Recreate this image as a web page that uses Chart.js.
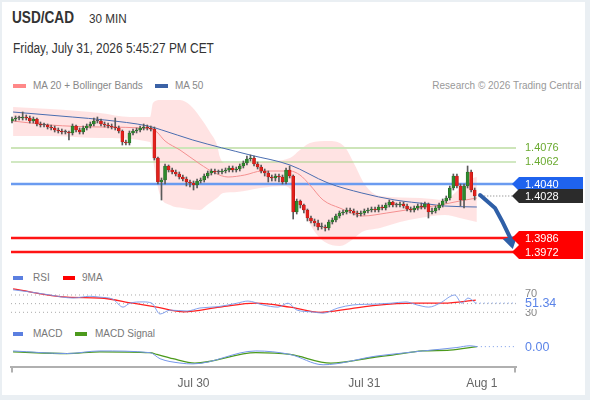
<!DOCTYPE html>
<html><head><meta charset="utf-8">
<script src="https://cdn.jsdelivr.net/npm/chart.js@4.4.1/dist/chart.umd.min.js"></script>
<style>
html,body{margin:0;padding:0;}
body{width:590px;height:400px;background:#eaeff3;position:relative;overflow:hidden;font-family:"Liberation Sans",Arial,sans-serif;}
#frame{position:absolute;left:2px;top:2px;width:583px;height:393px;background:#fff;}
.t{position:absolute;white-space:nowrap;line-height:1;transform-origin:0 50%;}
.sw{position:absolute;height:4px;}
canvas{position:absolute;left:0;}
</style></head><body>
<div id="frame"></div>
<div class="t" style="left:12px;top:10px;font-size:16px;font-weight:bold;color:#333;transform:scaleX(0.85)">USD/CAD</div>
<div class="t" style="left:89px;top:12px;font-size:13px;color:#333;transform:scaleX(0.9)">30 MIN</div>
<div class="t" style="left:13px;top:41px;font-size:14px;color:#333;transform:scaleX(0.85)">Friday, July 31, 2026 5:45:27 PM CET</div>
<div class="sw" style="left:13px;top:84px;width:13px;background:#f88;"></div>
<div class="t" style="left:33px;top:80px;font-size:11.5px;color:#888;transform:scaleX(0.87)">MA 20 + Bollinger Bands</div>
<div class="sw" style="left:155px;top:84px;width:13px;background:#3b62a6;"></div>
<div class="t" style="left:175px;top:80px;font-size:11.5px;color:#888;transform:scaleX(0.87)">MA 50</div>
<div class="t" style="right:9px;top:80px;font-size:11.5px;color:#999;transform:scaleX(0.87);transform-origin:100% 50%">Research © 2026 Trading Central</div>
<div class="sw" style="left:13px;top:276px;width:10px;background:#5b7fe0;"></div>
<div class="t" style="left:33px;top:272px;font-size:11.5px;color:#777;transform:scaleX(0.87)">RSI</div>
<div class="sw" style="left:63px;top:276px;width:12px;background:#f00;"></div>
<div class="t" style="left:82px;top:272px;font-size:11.5px;color:#777;transform:scaleX(0.87)">9MA</div>
<div class="sw" style="left:13px;top:332px;width:10px;background:#5b7fe0;"></div>
<div class="t" style="left:33px;top:328px;font-size:11.5px;color:#777;transform:scaleX(0.87)">MACD</div>
<div class="sw" style="left:75px;top:332px;width:12px;background:#4c9a1c;"></div>
<div class="t" style="left:95px;top:328px;font-size:11.5px;color:#777;transform:scaleX(0.87)">MACD Signal</div>
<canvas id="price" width="590" height="170" style="top:95px;width:590px;height:170px"></canvas>
<canvas id="rsi" width="590" height="35" style="top:285px;width:590px;height:35px"></canvas>
<canvas id="macd" width="590" height="60" style="top:338px;width:590px;height:60px"></canvas>
<script>
// ---------- data ----------
const opens = [1.4103,1.4105,1.4106,1.4106,1.4107,1.4106,1.4103,1.4105,1.4100,1.4099,
1.4099,1.4097,1.4096,1.4094,1.4093,1.4092,1.4092,1.4091,1.4098,1.4094,
1.4092,1.4096,1.4098,1.4100,1.4103,1.4103,1.4100,1.4099,1.4098,1.4097,
1.4096,1.4093,1.4082,1.4081,1.4091,1.4093,1.4094,1.4096,1.4097,1.4096,
1.4095,1.4066,1.4042,1.4044,1.4058,1.4054,1.4052,1.4050,1.4047,1.4045,
1.4042,1.4041,1.4039,1.4043,1.4044,1.4048,1.4051,1.4053,1.4052,1.4052,
1.4053,1.4054,1.4056,1.4054,1.4055,1.4058,1.4061,1.4065,1.4066,1.4060,
1.4057,1.4053,1.4051,1.4047,1.4046,1.4048,1.4047,1.4042,1.4054,1.4048,
1.4012,1.4023,1.4019,1.4014,1.4006,1.4003,1.4001,1.3997,1.3997,1.3996,
1.4002,1.4004,1.4008,1.4011,1.4012,1.4014,1.4013,1.4011,1.4010,1.4011,
1.4013,1.4014,1.4015,1.4014,1.4017,1.4016,1.4019,1.4022,1.4019,1.4019,
1.4020,1.4018,1.4015,1.4014,1.4016,1.4018,1.4017,1.4020,1.4012,1.4013,
1.4016,1.4019,1.4023,1.4026,1.4036,1.4048,1.4038,1.4024,1.4038,1.4052,
1.4034];
const closes = [1.4105,1.4106,1.4106,1.4107,1.4106,1.4103,1.4105,1.4100,1.4099,1.4099,
1.4097,1.4096,1.4094,1.4093,1.4092,1.4092,1.4091,1.4098,1.4094,1.4092,
1.4096,1.4098,1.4100,1.4103,1.4103,1.4100,1.4099,1.4098,1.4097,1.4096,
1.4093,1.4082,1.4081,1.4091,1.4093,1.4094,1.4096,1.4097,1.4096,1.4095,
1.4066,1.4042,1.4044,1.4058,1.4054,1.4052,1.4050,1.4047,1.4045,1.4042,
1.4041,1.4039,1.4043,1.4044,1.4048,1.4051,1.4053,1.4052,1.4052,1.4053,
1.4054,1.4056,1.4054,1.4055,1.4058,1.4061,1.4065,1.4066,1.4060,1.4057,
1.4053,1.4051,1.4047,1.4046,1.4048,1.4047,1.4042,1.4054,1.4048,1.4012,
1.4023,1.4019,1.4014,1.4006,1.4003,1.4001,1.3997,1.3997,1.3996,1.4002,
1.4004,1.4008,1.4011,1.4012,1.4014,1.4013,1.4011,1.4010,1.4011,1.4013,
1.4014,1.4015,1.4014,1.4017,1.4016,1.4019,1.4022,1.4019,1.4019,1.4020,
1.4018,1.4015,1.4014,1.4016,1.4018,1.4017,1.4020,1.4012,1.4013,1.4016,
1.4019,1.4023,1.4026,1.4036,1.4048,1.4038,1.4024,1.4038,1.4052,1.4034,
1.4028];
const highs = [1.4107,1.4108,1.4108,1.4112,1.4109,1.4108,1.4107,1.4106,1.4102,1.4101,
1.4100,1.4099,1.4098,1.4096,1.4095,1.4094,1.4093,1.4100,1.4099,1.4096,
1.4098,1.4100,1.4102,1.4106,1.4107,1.4105,1.4102,1.4101,1.4100,1.4106,
1.4098,1.4094,1.4084,1.4093,1.4095,1.4096,1.4098,1.4100,1.4099,1.4098,
1.4097,1.4067,1.4046,1.4060,1.4059,1.4056,1.4054,1.4052,1.4049,1.4047,
1.4044,1.4043,1.4045,1.4046,1.4050,1.4053,1.4055,1.4055,1.4054,1.4055,
1.4056,1.4058,1.4058,1.4057,1.4060,1.4063,1.4068,1.4069,1.4068,1.4062,
1.4059,1.4055,1.4053,1.4049,1.4050,1.4050,1.4049,1.4056,1.4058,1.4049,
1.4025,1.4024,1.4020,1.4015,1.4008,1.4005,1.4004,1.4001,1.3999,1.4004,
1.4006,1.4010,1.4013,1.4014,1.4016,1.4016,1.4015,1.4013,1.4013,1.4015,
1.4016,1.4017,1.4017,1.4019,1.4019,1.4021,1.4024,1.4023,1.4021,1.4022,
1.4022,1.4020,1.4017,1.4018,1.4020,1.4021,1.4022,1.4021,1.4016,1.4018,
1.4021,1.4025,1.4028,1.4038,1.4050,1.4050,1.4040,1.4040,1.4058,1.4054,
1.4036];
const lows = [1.4101,1.4103,1.4104,1.4104,1.4104,1.4101,1.4101,1.4098,1.4097,1.4097,
1.4095,1.4094,1.4092,1.4091,1.4090,1.4090,1.4084,1.4089,1.4092,1.4090,
1.4090,1.4094,1.4096,1.4098,1.4101,1.4098,1.4097,1.4096,1.4095,1.4094,
1.4091,1.4079,1.4079,1.4079,1.4089,1.4091,1.4092,1.4094,1.4094,1.4093,
1.4064,1.4040,1.4024,1.4040,1.4052,1.4050,1.4048,1.4045,1.4043,1.4038,
1.4037,1.4034,1.4036,1.4041,1.4042,1.4046,1.4049,1.4050,1.4050,1.4050,
1.4051,1.4052,1.4052,1.4052,1.4053,1.4056,1.4059,1.4063,1.4058,1.4055,
1.4051,1.4048,1.4042,1.4043,1.4043,1.4042,1.4040,1.4040,1.4046,1.4005,
1.4010,1.4016,1.4011,1.4003,1.4001,1.3998,1.3994,1.3995,1.3993,1.3994,
1.4000,1.4002,1.4006,1.4009,1.4010,1.4011,1.4009,1.4007,1.4008,1.4009,
1.4011,1.4012,1.4012,1.4012,1.4014,1.4014,1.4017,1.4017,1.4017,1.4017,
1.4016,1.4013,1.4012,1.4012,1.4014,1.4015,1.4015,1.4006,1.4010,1.4011,
1.4014,1.4017,1.4021,1.4024,1.4034,1.4036,1.4018,1.4016,1.4036,1.4032,
1.4024];

const bbUpX = [0.3,10.7,24.7,33.1,38.8,39.6,41.6,47.2,50.0,52.8,55.6,57.6,58.4,59.8,69.7,78.1,80.9,83.7,89.3,93.5,96.3,99.2,103.4,114.6,121.6,125.3,128.1,130.6];
const bbUpper = [1.4117,1.4115,1.4111,1.4107,1.4107,1.4121,1.4124,1.4124,1.4119,1.4107,1.4092,1.4079,1.4067,1.4061,1.4062,1.4066,1.4074,1.4081,1.4083,1.4077,1.4059,1.4039,1.4028,1.4026,1.4024,1.4034,1.4044,1.4047];
const bbLowX = [0.3,10.7,24.7,38.8,39.6,41.6,44.4,48.0,52.8,54.8,57.6,59.3,63.2,69.7,76.7,79.5,82.3,85.1,87.9,92.1,95.5,98.3,103.4,109.0,114.6,121.6,125.8,130.6];
const bbLower = [1.4088,1.4088,1.4086,1.4082,1.4064,1.4029,1.4019,1.4016,1.4014,1.4019,1.4026,1.4031,1.4032,1.4036,1.4038,1.4029,1.4009,1.3992,1.3982,1.3978,1.3984,1.3992,1.3996,1.4002,1.4006,1.4009,1.4006,1.4002];
const ma20X = [0.3,10.7,24.7,39.3,40.7,43.0,47.2,52.8,57.0,60.7,65.4,70.2,78.1,80.9,83.7,87.4,92.1,98.6,105.3,112.6,120.2,125.8,130.6];
const ma20 = [1.4103,1.4099,1.4097,1.4095,1.4092,1.4083,1.4074,1.4060,1.4051,1.4047,1.4049,1.4053,1.4053,1.4049,1.4039,1.4024,1.4016,1.4008,1.4011,1.4015,1.4019,1.4023,1.4026];
const ma50X = [0.3,16.9,26.1,38.2,42.1,50.8,66.9,78.1,88.8,98.3,107.6,116.9,121.6,130.6];
const ma50 = [1.4112,1.4107,1.4104,1.4098,1.4094,1.4084,1.4069,1.4059,1.4041,1.4031,1.4024,1.4020,1.4018,1.4017];

const levels = [1.4076, 1.4062, 1.4040, 1.3986, 1.3972];
const lastPrice = 1.4028;
const arrowPts = [[131.5,1.4029],[135.7,1.4016],[137.8,1.4003],[139.9,1.3987],[140.7,1.3975]];

const rsiX = [0.3,5.1,10.7,17.1,21.9,24.7,28.4,31.2,33.1,36.8,39.3,41.6,44.4,49.2,52.8,57.9,63.2,66.3,70.5,74.7,77.5,80.1,84.3,87.4,91.6,95.8,102.2,106.5,110.7,113.8,117.1,120.2,124.4,126.4,128.1,130.3];
const rsi = [82,77,70,63,67,65,60,42,51,54,51,26,35,33,40,43,51,56,47,42,51,35,31,28,40,47,49,51,54,47,42,51,70,51,63,51.34];
const rsiMaX = [0.3,15.4,24.7,34.0,40.7,48.3,58.4,68.5,78.1,86.5,94.9,102.2,112.9,121.3,130.3];
const rsiMa = [84,65,63,51,42,31,42,51,42,30,38,46,51,51,58];
const rsiGuides = [70, 50, 30];

const macdX = [0.3,15.4,24.7,38.8,41.6,47.2,50.8,68.5,78.1,87.4,102.2,106.2,115.4,125.0,128.7,130.6];
const macd = [-0.0005,-0.0008,-0.0005,-0.0007,-0.0014,-0.0019,-0.0020,-0.0005,-0.0009,-0.0021,-0.0011,-0.0009,-0.0005,-0.0001,0.0001,0.0000];
const sigX = [0.3,15.4,24.7,38.8,40.7,45.2,51.4,68.5,78.1,89.6,102.2,106.2,115.4,123.0,130.6];
const signal = [-0.0006,-0.0008,-0.0006,-0.0007,-0.0009,-0.0014,-0.0019,-0.0007,-0.0009,-0.0019,-0.0012,-0.0010,-0.0005,-0.0004,0.0000];

const xTickPos = [51, 99, 132];
const xTickLabels = ['Jul 30', 'Jul 31', 'Aug 1'];
const xMin = -0.28, xMax = 141.6;

// ---------- helpers ----------
const FONT = '"Liberation Sans", Arial, sans-serif';
const pts = (xs, ys) => xs.map((x, i) => ({x, y: ys[i]}));
const lineDs = (data, color, width, extra) => Object.assign({type:'line', data, borderColor:color, borderWidth:width, pointRadius:0, fill:false, tension:0.3, cubicInterpolationMode:'monotone'}, extra || {});
const hline = (v, color, width, dash, from, order) => ({type:'line', data:[{x: from, y: v}, {x: xMax, y: v}], borderColor: color, borderWidth: width, borderDash: dash, pointRadius: 0, fill: false, order: order});
function baseOptions(yMin, yMax) {
  return {responsive:false, animation:false, events:[],
    layout:{padding:{left:11, right:74, top:0, bottom:0}},
    plugins:{legend:{display:false}, tooltip:{enabled:false}},
    scales:{x:{type:'linear', min:xMin, max:xMax, offset:false, display:false},
            y:{min:yMin, max:yMax, display:false}}};
}
function labelBox(ctx, yc, fill, text) {
  ctx.beginPath();
  ctx.moveTo(512, yc); ctx.lineTo(519, yc - 7); ctx.lineTo(583, yc - 7);
  ctx.lineTo(583, yc + 7); ctx.lineTo(519, yc + 7); ctx.closePath();
  ctx.fillStyle = fill; ctx.fill();
  ctx.fillStyle = '#fff'; ctx.fillText(text, 525, yc + 0.5);
}

// ---------- price chart ----------
const candleIdx = closes.map((_, i) => i);
const bodyColors = closes.map((c, i) => c > opens[i] ? '#2e8a2e' : (c < opens[i] ? '#e3201b' : '#555'));
const bodyEdges = closes.map((c, i) => c > opens[i] ? '#1f5f1f' : (c < opens[i] ? '#a51612' : '#555'));
const levelColors = ['#cde5b9', '#a3d186', '#6a9bf0', '#ff1414', '#ff1414'];
const levelWidths = [2, 1.2, 2.5, 2.5, 2.5];

const pricePlugin = {
  id: 'priceLabels',
  afterDraw(chart) {
    const {ctx, scales: {x, y}} = chart;
    ctx.save();
    // forecast arrow
    const p = arrowPts.map(([a, b]) => [x.getPixelForValue(a), y.getPixelForValue(b)]);
    const dx = p[4][0] - p[3][0], dy = p[4][1] - p[3][1], L = Math.hypot(dx, dy);
    const ux = dx / L, uy = dy / L;
    const bx = p[4][0] - ux * 12, by = p[4][1] - uy * 12;
    ctx.strokeStyle = '#2f5fa7'; ctx.fillStyle = '#2f5fa7'; ctx.lineWidth = 4; ctx.lineCap = 'round';
    ctx.beginPath(); ctx.moveTo(p[0][0], p[0][1]); ctx.lineTo(p[1][0], p[1][1]);
    ctx.quadraticCurveTo(p[2][0], p[2][1], bx, by); ctx.stroke();
    ctx.beginPath(); ctx.moveTo(p[4][0], p[4][1]);
    ctx.lineTo(bx - uy * 7.5, by + ux * 7.5); ctx.lineTo(bx + uy * 7.5, by - ux * 7.5); ctx.closePath(); ctx.fill();
    // labels
    ctx.font = '11px ' + FONT; ctx.textBaseline = 'middle'; ctx.textAlign = 'left';
    ctx.fillStyle = '#6aaa30';
    ctx.fillText(levels[0].toFixed(4), 525, y.getPixelForValue(levels[0]));
    ctx.fillText(levels[1].toFixed(4), 525, y.getPixelForValue(levels[1]));
    labelBox(ctx, y.getPixelForValue(levels[2]), '#1f63ee', levels[2].toFixed(4));
    labelBox(ctx, y.getPixelForValue(lastPrice), '#2b2b2b', lastPrice.toFixed(4));
    labelBox(ctx, y.getPixelForValue(levels[3]), '#ff0000', levels[3].toFixed(4));
    labelBox(ctx, y.getPixelForValue(levels[4]), '#ff0000', levels[4].toFixed(4));
    ctx.restore();
  }
};

const priceDatasets = [
  lineDs(pts(bbUpX, bbUpper), 'rgba(0,0,0,0)', 0, {fill:'+1', backgroundColor:'rgba(255,200,200,0.5)', order:20}),
  lineDs(pts(bbLowX, bbLower), 'rgba(0,0,0,0)', 0, {order:19}),
];
levels.forEach((v, i) => priceDatasets.push(hline(v, levelColors[i], levelWidths[i], [], xMin, 9)));
priceDatasets.push(hline(lastPrice, '#777', 1, [1, 2], closes.length, 9));
priceDatasets.push(lineDs(pts(ma50X, ma50), '#4a6db0', 1, {order:6}));
priceDatasets.push(lineDs(pts(ma20X, ma20), '#f49090', 1, {order:5}));
priceDatasets.push({type:'bar', data: candleIdx.map(i => ({x:i, y:[lows[i], highs[i]]})), backgroundColor:'#5a5a5a', barThickness:1, grouped:false, order:3});
priceDatasets.push({type:'bar', data: candleIdx.map(i => ({x:i, y:[opens[i], closes[i]]})), backgroundColor: bodyColors, borderColor: bodyEdges, borderWidth: 0.5, borderSkipped: false, barThickness:3, minBarLength:1, grouped:false, order:2});

new Chart(document.getElementById('price'), {
  type: 'bar', data: {datasets: priceDatasets},
  options: baseOptions(1.3959, 1.4129), plugins: [pricePlugin]
});

// ---------- RSI chart ----------
const rsiPlugin = {
  id: 'rsiLabels',
  afterDraw(chart) {
    const {ctx, scales: {y}} = chart;
    ctx.save(); ctx.textBaseline = 'middle'; ctx.font = '11px ' + FONT;
    ctx.fillStyle = '#888';
    ctx.fillText(String(rsiGuides[0]), 525, y.getPixelForValue(rsiGuides[0]) - 1);
    ctx.fillText(String(rsiGuides[2]), 525, y.getPixelForValue(rsiGuides[2]) + 1);
    const last = rsi[rsi.length - 1], yv = y.getPixelForValue(last);
    ctx.fillStyle = '#fff'; ctx.fillRect(520, yv - 6, 45, 12);
    ctx.font = '12.5px ' + FONT; ctx.fillStyle = '#5b84e8';
    ctx.fillText(last.toFixed(2), 525, yv + 0.5);
    ctx.restore();
  }
};
const rsiDatasets = rsiGuides.map(v => hline(v, '#aaa', 1, [1, 3], xMin, 9));
rsiDatasets.push(hline(rsi[rsi.length - 1], '#7a9be8', 1, [1, 3], rsiX[rsiX.length - 1], 8));
rsiDatasets.push(lineDs(pts(rsiMaX, rsiMa), '#ff2020', 1.3, {order:2}));
rsiDatasets.push(lineDs(pts(rsiX, rsi), '#7596ea', 0.9, {order:1, tension:0.2}));
new Chart(document.getElementById('rsi'), {
  type: 'line', data: {datasets: rsiDatasets},
  options: baseOptions(12.2, 93.1), plugins: [rsiPlugin]
});

// ---------- MACD chart ----------
const macdPlugin = {
  id: 'macdLabels',
  afterDraw(chart) {
    const {ctx, chartArea, scales: {y}} = chart;
    ctx.save(); ctx.textBaseline = 'middle'; ctx.font = '12.5px ' + FONT; ctx.fillStyle = '#5b84e8';
    ctx.fillText(macd[macd.length - 1].toFixed(2), 525, y.getPixelForValue(0) + 0.5);
    ctx.strokeStyle = '#b0b0b0'; ctx.lineWidth = 2;
    ctx.beginPath();
    ctx.moveTo(chartArea.left + 1, chartArea.bottom); ctx.lineTo(chartArea.left + 1, chartArea.bottom + 6);
    ctx.moveTo(chartArea.right - 1, chartArea.bottom); ctx.lineTo(chartArea.right - 1, chartArea.bottom + 6);
    ctx.stroke(); ctx.restore();
  }
};
const macdDatasets = [
  hline(0, '#7a9be8', 1, [1, 3], macdX[macdX.length - 1], 8),
  lineDs(pts(sigX, signal), '#4c9a1c', 1.3, {order:2}),
  lineDs(pts(macdX, macd), '#7596ea', 1, {order:1}),
];
const macdOpts = baseOptions(-0.0023, 0.0010);
macdOpts.layout.padding.bottom = 3;
macdOpts.scales.x = {
  type:'linear', min:xMin, max:xMax, offset:false, display:true,
  afterBuildTicks: axis => { axis.ticks = xTickPos.map(v => ({value: v})); },
  ticks:{autoSkip:false, maxRotation:0, padding:10, color:'#666', font:{size:12, family:FONT},
         callback: v => xTickLabels[xTickPos.indexOf(v)]},
  grid:{display:false, drawTicks:false},
  border:{display:true, color:'#b0b0b0', width:2}
};
new Chart(document.getElementById('macd'), {
  type: 'line', data: {datasets: macdDatasets},
  options: macdOpts, plugins: [macdPlugin]
});
</script>
</body></html>
